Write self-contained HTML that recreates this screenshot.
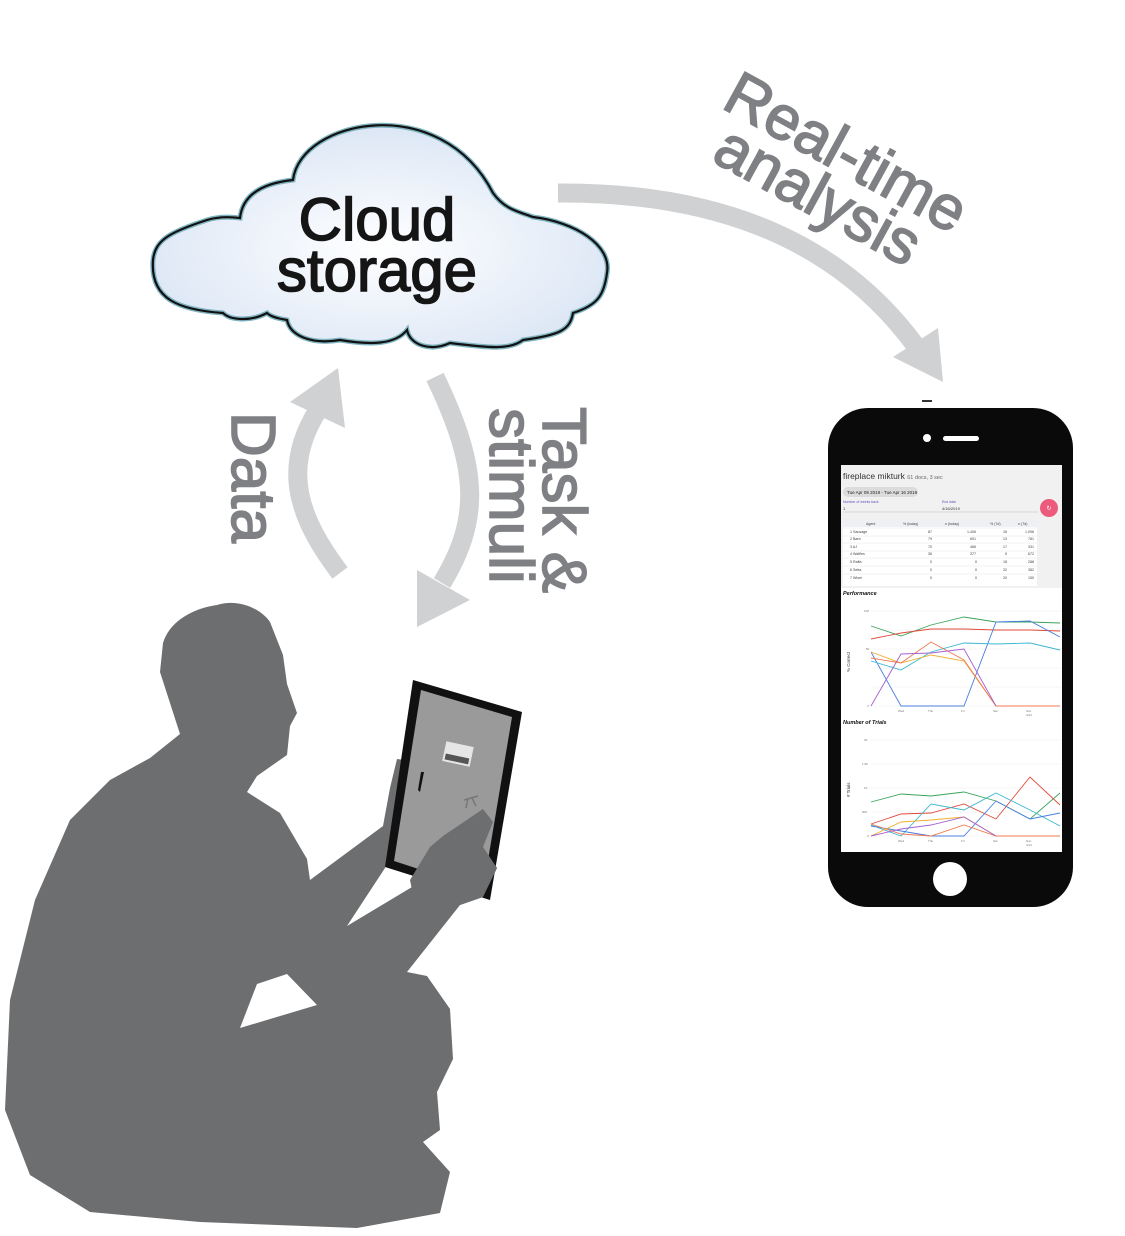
<!DOCTYPE html>
<html><head><meta charset="utf-8"><style>
html,body{margin:0;padding:0;background:#fff;}
svg{display:block;}
text{font-family:"Liberation Sans",Arial,sans-serif;}
</style></head><body>
<svg width="1125" height="1236" viewBox="0 0 1125 1236" xmlns="http://www.w3.org/2000/svg">
<defs>
<radialGradient id="cg" cx="0.5" cy="0.55" r="0.6">
<stop offset="0" stop-color="#ffffff"/><stop offset="0.6" stop-color="#e8eff9"/><stop offset="1" stop-color="#d9e4f3"/>
</radialGradient>
</defs>

<!-- Cloud -->
<path d="M240,218 C242,200 255,184 293,180 C300,120 440,90 493,193 C505,210 520,212 533,217 C575,222 612,245 607,273 C604,295 598,305 573,313 C570,330 560,335 523,340 C510,350 490,348 450,343 C430,352 410,345 407,330 C395,345 370,345 340,340 C310,345 290,335 287,320 C275,318 270,316 267,313 C250,322 230,320 223,313 C180,310 150,300 153,260 C155,240 170,232 207,220 C220,216 232,217 240,218 Z" fill="url(#cg)" stroke="#7fb3c0" stroke-width="5"/>
<path d="M240,218 C242,200 255,184 293,180 C300,120 440,90 493,193 C505,210 520,212 533,217 C575,222 612,245 607,273 C604,295 598,305 573,313 C570,330 560,335 523,340 C510,350 490,348 450,343 C430,352 410,345 407,330 C395,345 370,345 340,340 C310,345 290,335 287,320 C275,318 270,316 267,313 C250,322 230,320 223,313 C180,310 150,300 153,260 C155,240 170,232 207,220 C220,216 232,217 240,218 Z" fill="none" stroke="#111" stroke-width="2.2"/>
<g fill="#151515" stroke="#151515" stroke-width="1.6" font-size="60" text-anchor="middle">
<text x="377" y="240">Cloud</text>
<text x="377" y="291">storage</text>
</g>

<!-- Arrows -->
<g fill="none" stroke="#d0d1d3" stroke-width="19">
<path d="M558,193 C700,192 830,230 915,345"/>
<path d="M340,573 C300,520 280,470 318,410"/>
<path d="M435,377 C480,470 480,520 442,583"/>
</g>
<g fill="#d0d1d3">
<polygon points="893,357 938,328 943,382"/>
<polygon points="290,402 338,368 345,428"/>
<polygon points="417,570 470,600 417,627"/>
</g>

<!-- Labels -->
<g fill="#7f8084" stroke="#7f8084" stroke-width="1.6" font-size="62">
<text transform="translate(232,412) rotate(90)">Data</text>
<text transform="translate(543,407) rotate(90)">Task &amp;</text>
<text transform="translate(490,408) rotate(90)">stimuli</text>
<text transform="translate(720,107) rotate(28.7)">Real-time</text>
<text transform="translate(710,160) rotate(28.7)">analysis</text>
</g>

<!-- Person silhouette -->
<path d="M217,605 C240,598 262,610 270,622 L283,655 L287,684 L297,713 L290,726 L287,755 L257,776 L247,792 L280,813 L307,859 L310,880 L383,826 L390,788 L397,759 L405,760 L398,800 L385,868 L347,926 L417,884 L430,847 L443,836 L483,809 L493,822 L483,847 L497,868 L483,897 L460,905 L407,972 L427,976 L450,1009 L453,1059 L437,1092 L440,1130 L423,1142 L450,1172 L440,1213 L357,1228 L200,1222 L90,1212 L30,1175 L5,1110 L10,1000 L35,900 L70,820 L110,780 L150,758 L180,734 L160,672 L163,643 C170,620 195,608 217,605 Z" fill="#6d6e70"/>
<polygon points="240,1028 257,984 287,974 317,1005" fill="#fff"/>

<!-- Tablet -->
<polygon points="413,680 522,712 490,900 385,867" fill="#111"/>
<polygon points="421,690 512,717 483,890 394,861" fill="#9a9a9b"/>
<rect x="444" y="744" width="28" height="20" fill="#e6e6e6" transform="rotate(12 458 754)"/>
<rect x="446" y="756" width="24" height="6" fill="#555" transform="rotate(12 458 754)"/>
<path d="M421,772 L424,772 L422,782 L420,792 L418,790 Z" fill="#111"/>
<path d="M464,800 L478,796 M468,798 L466,808 M472,798 L476,806" stroke="#777" stroke-width="1.5"/>
<path d="M410,880 L430,847 L443,836 L483,809 L493,822 L483,847 L497,868 L483,897 L460,905 L420,930 Z" fill="#6d6e70"/>

<!-- Phone -->
<rect x="828" y="408" width="245" height="499" rx="40" fill="#0a0a0a"/>
<rect x="922" y="400" width="10" height="2" fill="#333"/>
<circle cx="927" cy="438" r="4" fill="#fff"/>
<rect x="943" y="436" width="36" height="5" rx="2.5" fill="#fff"/>
<circle cx="950" cy="879" r="17" fill="#fff"/>
<rect x="841" y="465" width="221" height="387" fill="#fff"/>
<rect x="841" y="465" width="221" height="123" fill="#f1f1f1"/>
<text x="843" y="479" font-size="8.5" fill="#333">fireplace mikturk <tspan font-size="5.5" fill="#666">61 docs, 3 sec</tspan></text>
<rect x="843" y="487" width="75" height="10" rx="5" fill="#dcdcdc"/>
<text x="847" y="494" font-size="4.5" fill="#222">Tue Apr 09 2019 - Tue Apr 16 2019</text>
<text x="843" y="503" font-size="3.5" fill="#6a4fc0">Number of weeks back</text>
<text x="843" y="510" font-size="4" fill="#333">1</text>
<text x="942" y="503" font-size="3.5" fill="#6a4fc0">End date</text>
<text x="942" y="510" font-size="4" fill="#333">4/16/2019</text>
<line x1="843" y1="512" x2="1038" y2="512" stroke="#bbb" stroke-width="0.5"/>
<circle cx="1049" cy="508" r="9" fill="#ec5b7e"/>
<text x="1049" y="510" font-size="6" fill="#fff" text-anchor="middle">↻</text>
<rect x="843" y="519" width="194" height="67" fill="#fff"/>
<rect x="843" y="519" width="194" height="8" fill="#eef0f3"/>
<g font-size="3.6" fill="#444">
<text x="866" y="525">Agent</text><text x="903" y="525">% (today)</text><text x="945" y="525">n (today)</text><text x="990" y="525">% (7d)</text><text x="1018" y="525">n (7d)</text>
<text x="850" y="533">1  Sausage</text><text x="928" y="533">87</text><text x="967" y="533">1,406</text><text x="1003" y="533">16</text><text x="1025" y="533">1,096</text>
<text x="850" y="540">2  Barb</text><text x="928" y="540">79</text><text x="970" y="540">601</text><text x="1003" y="540">13</text><text x="1028" y="540">781</text>
<text x="850" y="548">3  AJ</text><text x="928" y="548">70</text><text x="970" y="548">466</text><text x="1003" y="548">17</text><text x="1028" y="548">331</text>
<text x="850" y="555">4  Waffles</text><text x="928" y="555">36</text><text x="970" y="555">377</text><text x="1005" y="555">5</text><text x="1028" y="555">672</text>
<text x="850" y="563">5  Raffa</text><text x="930" y="563">0</text><text x="975" y="563">0</text><text x="1003" y="563">18</text><text x="1028" y="563">288</text>
<text x="850" y="571">6  Setta</text><text x="930" y="571">0</text><text x="975" y="571">0</text><text x="1003" y="571">32</text><text x="1028" y="571">382</text>
<text x="850" y="579">7  Wiser</text><text x="930" y="579">0</text><text x="975" y="579">0</text><text x="1003" y="579">20</text><text x="1028" y="579">150</text>
</g>
<g stroke="#e6e6e6" stroke-width="0.5">
<line x1="843" y1="528" x2="1037" y2="528"/><line x1="843" y1="536" x2="1037" y2="536"/><line x1="843" y1="543" x2="1037" y2="543"/><line x1="843" y1="551" x2="1037" y2="551"/><line x1="843" y1="558" x2="1037" y2="558"/><line x1="843" y1="566" x2="1037" y2="566"/><line x1="843" y1="574" x2="1037" y2="574"/>
</g>

<text x="843" y="595" font-size="5.5" font-weight="bold" font-style="italic" fill="#111">Performance</text>
<g stroke="#eee" stroke-width="0.5">
<line x1="871" y1="611" x2="1062" y2="611"/><line x1="871" y1="630" x2="1062" y2="630"/><line x1="871" y1="649" x2="1062" y2="649"/><line x1="871" y1="668" x2="1062" y2="668"/><line x1="871" y1="687" x2="1062" y2="687"/><line x1="871" y1="706" x2="1062" y2="706"/>
</g>
<text transform="translate(850,672) rotate(-90)" font-size="4.5" fill="#333">% Correct</text>
<g font-size="3" fill="#777"><text x="864" y="612">100</text><text x="866" y="650">50</text><text x="867" y="707">0</text>
<text x="898" y="712">Wed</text><text x="928" y="712">Thu</text><text x="961" y="712">Fri</text><text x="993" y="712">Sat</text><text x="1026" y="712">Sun</text><text x="1026" y="716">4/14</text></g>
<g fill="none" stroke-width="0.9">
<polyline stroke="#3aa35a" points="871,626 901,636 931,625 964,617 996,622 1030,622 1060,623"/>
<polyline stroke="#e04a3a" points="871,639 901,633 931,629 964,629 996,630 1030,630 1060,631"/>
<polyline stroke="#4a7ee0" points="871,652 901,706 931,706 964,706 996,622 1030,621 1060,637"/>
<polyline stroke="#3bb7d0" points="871,661 901,670 931,652 964,643 996,644 1030,643 1060,650"/>
<polyline stroke="#f0b030" points="871,652 901,663 931,655 964,661 996,706 1030,706 1060,706"/>
<polyline stroke="#f07a50" points="871,658 901,663 931,642 964,660 996,706 1030,706 1060,706"/>
<polyline stroke="#a560d0" points="871,706 901,654 931,653 964,649 996,706"/>
</g>

<text x="843" y="724" font-size="5.5" font-weight="bold" font-style="italic" fill="#111">Number of Trials</text>
<g stroke="#eee" stroke-width="0.5">
<line x1="871" y1="740" x2="1062" y2="740"/><line x1="871" y1="764" x2="1062" y2="764"/><line x1="871" y1="788" x2="1062" y2="788"/><line x1="871" y1="812" x2="1062" y2="812"/><line x1="871" y1="836" x2="1062" y2="836"/>
</g>
<text transform="translate(850,797) rotate(-90)" font-size="4.5" fill="#333"># Trials</text>
<g font-size="3" fill="#777"><text x="864" y="741">2K</text><text x="862" y="765">1.5K</text><text x="864" y="789">1K</text><text x="862" y="813">500</text><text x="867" y="837">0</text>
<text x="898" y="842">Wed</text><text x="928" y="842">Thu</text><text x="961" y="842">Fri</text><text x="993" y="842">Sat</text><text x="1026" y="842">Sun</text><text x="1026" y="846">4/14</text></g>
<g fill="none" stroke-width="0.9">
<polyline stroke="#3aa35a" points="871,802 901,794 931,796 964,792 996,801 1030,819 1060,793"/>
<polyline stroke="#e04a3a" points="871,824 901,814 931,813 964,804 996,819 1030,777 1060,805"/>
<polyline stroke="#3bb7d0" points="871,825 901,836 931,804 964,810 996,793 1030,810 1060,826"/>
<polyline stroke="#4a7ee0" points="871,826 901,831 931,836 964,836 996,801 1030,819 1060,813"/>
<polyline stroke="#f07a50" points="871,824 901,834 931,836 964,825 996,836 1030,836 1060,836"/>
<polyline stroke="#f0b030" points="871,836 901,822 931,820 964,817 996,836"/>
<polyline stroke="#a560d0" points="871,836 901,829 931,825 964,817 996,836"/>
</g>
</svg>
</body></html>
